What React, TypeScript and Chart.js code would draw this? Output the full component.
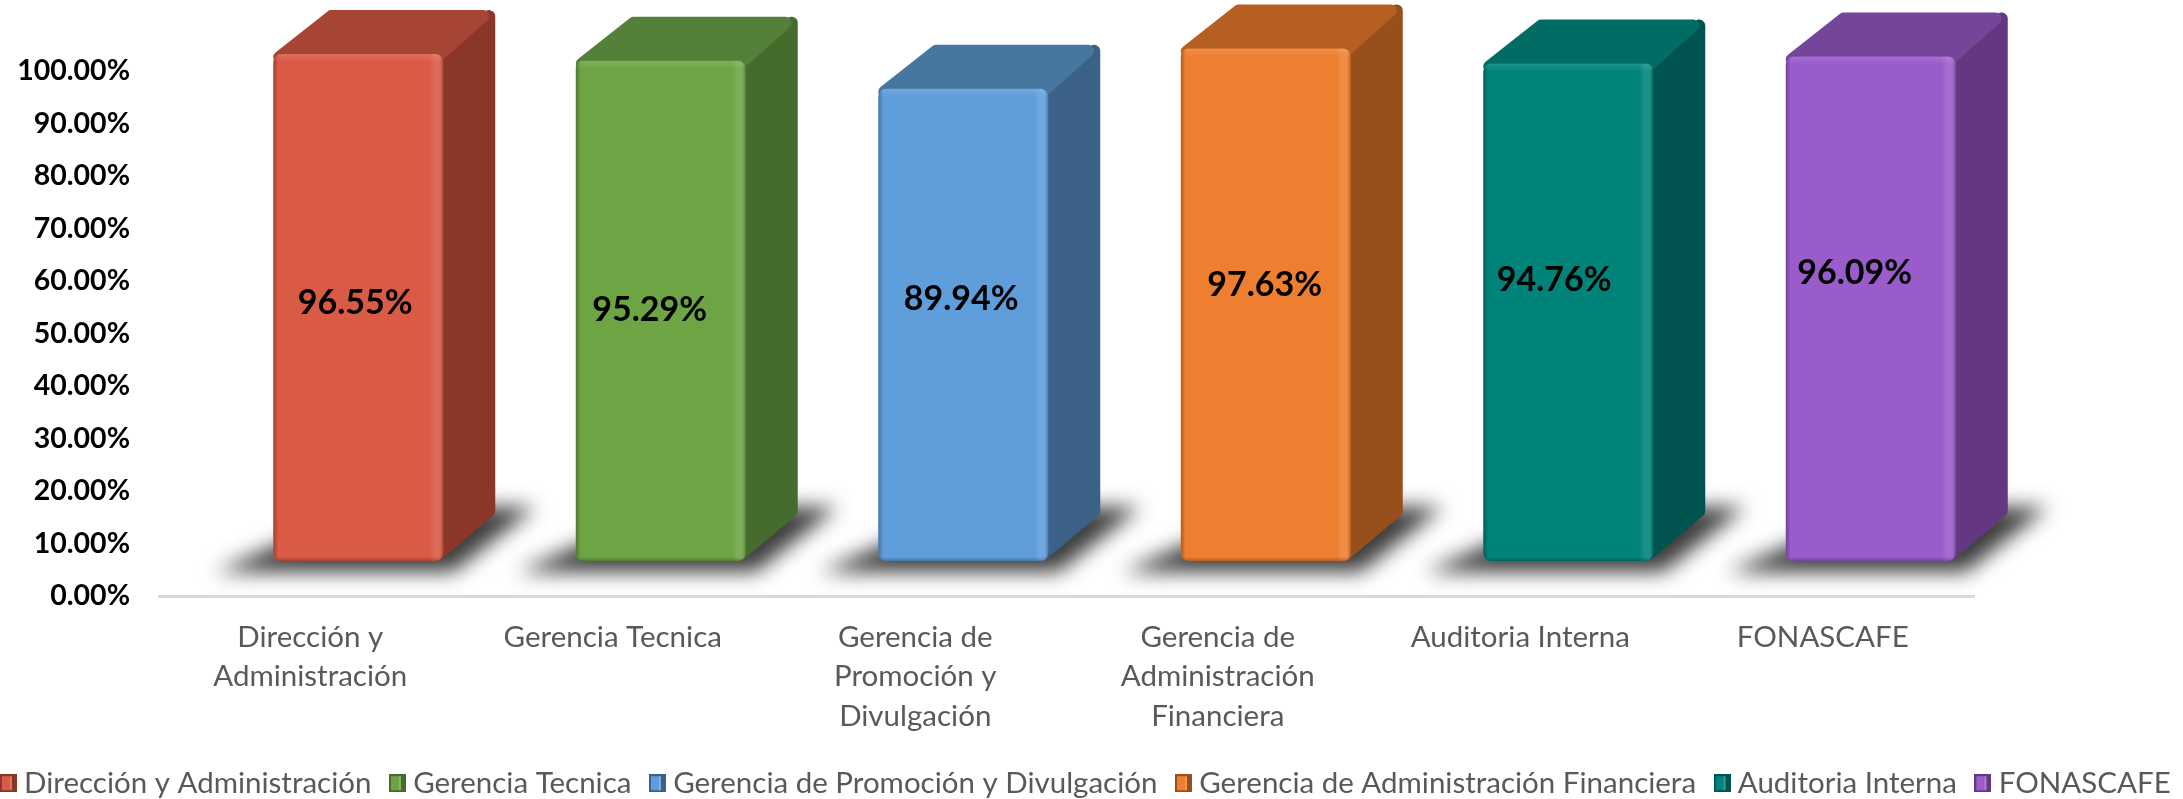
import React, { useEffect, useRef } from "react";
import { Chart, registerables } from "chart.js";

Chart.register(...registerables);

const categories: string[][] = [
  ["Dirección y", "Administración"],
  ["Gerencia Tecnica"],
  ["Gerencia de", "Promoción y", "Divulgación"],
  ["Gerencia de", "Administración", "Financiera"],
  ["Auditoria Interna"],
  ["FONASCAFE"],
];
const seriesNames = [
  "Dirección y Administración",
  "Gerencia Tecnica",
  "Gerencia de Promoción y Divulgación",
  "Gerencia de Administración Financiera",
  "Auditoria Interna",
  "FONASCAFE",
];
const values = [96.55, 95.29, 89.94, 97.63, 94.76, 96.09];
const frontColors = ["#D95A45", "#6DA544", "#5F9DDB", "#EF7F30", "#00847A", "#9A5CCB"];
const topColors = ["#A64533", "#55803A", "#47769F", "#B55F22", "#006C64", "#744598"];
const sideColors = ["#8A3629", "#456B2D", "#3B6186", "#994F1C", "#00534E", "#643881"];
const labelNudges = [
  [-3, -5], [-11, -1], [-2, -26], [-1, -20], [-14, -32], [-16, -36],
];

const FONT = "Lato, Carlito, 'Open Sans', sans-serif";
const SHIFT_X = 48;
const SHIFT_Y = -35;
const DEPTH_X = 52;
const DEPTH_Y = 44;
const LEGEND_BOTTOM_PAD = -9;
const PAD_LEFT = -33;
const PAD_RIGHT = -28;

function poly(ctx: CanvasRenderingContext2D, pts: number[][]) {
  ctx.beginPath();
  pts.forEach((p, i) => (i ? ctx.lineTo(p[0], p[1]) : ctx.moveTo(p[0], p[1])));
  ctx.closePath();
}

function swatch(i: number): HTMLCanvasElement {
  const c = document.createElement("canvas");
  c.width = 17;
  c.height = 18;
  const g = c.getContext("2d")!;
  g.fillStyle = sideColors[i];
  g.fillRect(0, 0, 17, 18);
  g.fillStyle = frontColors[i];
  g.fillRect(2, 2, 10, 14);
  g.fillStyle = "rgba(255,255,255,0.2)";
  g.fillRect(10, 2, 2, 14);
  return c;
}

function eachBar(chart: any, fn: (i: number, l: number, r: number, t: number, b: number, el: any) => void) {
  values.forEach((_, i) => {
    const el = chart.getDatasetMeta(i).data[i];
    const l = el.x - el.width / 2 + SHIFT_X;
    const r = el.x + el.width / 2 + SHIFT_X;
    fn(i, l, r, el.y + SHIFT_Y, el.base + SHIFT_Y, el);
  });
}

const bars3d = {
  id: "bars3d",
  beforeDatasetsDraw(chart: any) {
    const ctx: CanvasRenderingContext2D = chart.ctx;
    ctx.save();
    ctx.filter = "blur(10px)";
    ctx.fillStyle = "rgba(40,40,40,0.9)";
    eachBar(chart, (_i, l, r, _t, b) => {
      poly(ctx, [[l - 58, b + 11], [r + 10, b + 11], [r + 92, b - 54], [r + 24, b - 54], [l + 27, b - 26]]);
      ctx.fill();
    });
    ctx.restore();
    ctx.save();
    ctx.lineJoin = "round";
    ctx.lineWidth = 12;
    eachBar(chart, (i, l, r, t, b) => {
      const inset = 6;
      ctx.fillStyle = ctx.strokeStyle = sideColors[i];
      poly(ctx, [[r - inset, t + inset], [r + DEPTH_X - inset, t - DEPTH_Y + inset], [r + DEPTH_X - inset, b - DEPTH_Y - inset], [r - inset, b - inset]]);
      ctx.fill();
      ctx.stroke();
      ctx.fillStyle = ctx.strokeStyle = topColors[i];
      poly(ctx, [[l + inset, t + 3], [l + DEPTH_X + inset, t - DEPTH_Y + inset], [r + DEPTH_X - inset - 6, t - DEPTH_Y + inset], [r - 6, t + 3]]);
      ctx.fill();
      ctx.stroke();
    });
    ctx.restore();
    ctx.save();
    ctx.translate(SHIFT_X, SHIFT_Y);
  },
  afterDatasetsDraw(chart: any) {
    const ctx: CanvasRenderingContext2D = chart.ctx;
    ctx.restore();
    eachBar(chart, (i, l, r, t, b) => {
      ctx.save();
      ctx.beginPath();
      ctx.roundRect(l, t, r - l, b - t, 8);
      ctx.clip();
      const hr = ctx.createLinearGradient(r - 14, 0, r, 0);
      hr.addColorStop(0, "rgba(255,255,255,0)");
      hr.addColorStop(0.35, "rgba(255,255,255,0.1)");
      hr.addColorStop(0.7, "rgba(255,255,255,0.1)");
      hr.addColorStop(1, "rgba(0,0,0,0.25)");
      ctx.fillStyle = hr;
      ctx.fillRect(r - 14, t, 14, b - t);
      const ht = ctx.createLinearGradient(0, t, 0, t + 8);
      ht.addColorStop(0, "rgba(255,255,255,0.12)");
      ht.addColorStop(1, "rgba(255,255,255,0)");
      ctx.fillStyle = ht;
      ctx.fillRect(l, t, r - l, 8);
      const hl = ctx.createLinearGradient(l, 0, l + 5, 0);
      hl.addColorStop(0, "rgba(0,0,0,0.28)");
      hl.addColorStop(1, "rgba(0,0,0,0)");
      ctx.fillStyle = hl;
      ctx.fillRect(l, t, 5, b - t);
      const hb = ctx.createLinearGradient(0, b - 4, 0, b);
      hb.addColorStop(0, "rgba(0,0,0,0)");
      hb.addColorStop(1, "rgba(0,0,0,0.25)");
      ctx.fillStyle = hb;
      ctx.fillRect(l, b - 4, r - l, 4);
      ctx.restore();
    });
    ctx.save();
    ctx.font = `bold 34px ${FONT}`;
    ctx.fillStyle = "#000000";
    ctx.textAlign = "center";
    ctx.textBaseline = "middle";
    eachBar(chart, (i, l, r, t, b) => {
      ctx.fillText(
        values[i].toFixed(2) + "%",
        (l + r) / 2 + labelNudges[i][0],
        (t + b) / 2 + labelNudges[i][1]
      );
    });
    ctx.restore();
  },
};

export default function App() {
  const ref = useRef<HTMLCanvasElement>(null);
  useEffect(() => {
    document.body.style.margin = "0";
    document.body.style.overflow = "hidden";
    const swatches = seriesNames.map((_, i) => swatch(i));
    const chart = new Chart(ref.current!, {
      type: "bar",
      plugins: [bars3d],
      data: {
        labels: categories,
        datasets: seriesNames.map((name, i) => ({
          label: name,
          data: values.map((v, j) => (j === i ? v : null)),
          backgroundColor: frontColors[i],
          borderRadius: 8,
          borderSkipped: false,
          barPercentage: 1,
          categoryPercentage: 0.562,
          clip: false,
          yAxisID: "y",
        })) as any,
      },
      options: {
        responsive: false,
        animation: false,
        layout: { padding: { top: 71, bottom: LEGEND_BOTTOM_PAD, left: PAD_LEFT, right: PAD_RIGHT } },
        plugins: {
          tooltip: { enabled: false },
          legend: {
            position: "bottom",
            labels: {
              usePointStyle: true,
              pointStyleWidth: 2,
              padding: 25,
              color: "#595959",
              font: { family: FONT, size: 29.5 },
              generateLabels(c: any) {
                return c.data.datasets.map((d: any, i: number) => ({
                  text: d.label,
                  datasetIndex: i,
                  pointStyle: swatches[i],
                  fontColor: "#595959",
                  hidden: false,
                  lineWidth: 0,
                }));
              },
            },
          },
        },
        scales: {
          x: {
            stacked: true,
            grid: { display: false },
            border: { display: true, color: "#D9D9D9", width: 3 },
            afterFit(s: any) {
              s.height = 203 - LEGEND_BOTTOM_PAD - s.chart.legend.height;
            },
            ticks: {
              color: "#595959",
              font: { family: FONT, size: 29.5, lineHeight: 1.33 },
              padding: 14,
              maxRotation: 0,
              autoSkip: false,
            },
          },
          y: {
            stacked: true,
            min: 0,
            max: 100,
            grid: { display: false, drawTicks: false },
            border: { display: false },
            afterFit(s: any) {
              s.width = 159 - PAD_LEFT;
            },
            ticks: {
              stepSize: 10,
              color: "#000000",
              padding: 29,
              font: { family: FONT, size: 28.5, weight: "bold" },
              callback: (v: any) => Number(v).toFixed(2) + "%",
            },
          },
          spacer: {
            position: "right",
            grid: { display: false, drawTicks: false },
            border: { display: false },
            ticks: { display: false },
            afterFit(s: any) {
              s.width = 209 - PAD_RIGHT;
            },
          },
        },
      } as any,
    });
    return () => chart.destroy();
  }, []);
  return <canvas ref={ref} width={2183} height={799} style={{ display: "block" }} />;
}
